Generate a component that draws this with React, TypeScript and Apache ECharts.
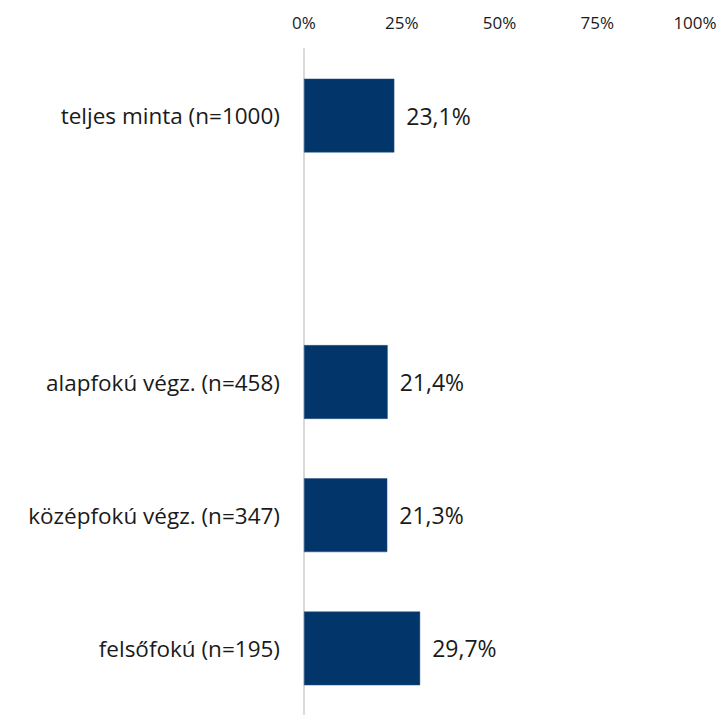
import React, { useEffect, useRef } from "react";
import * as echarts from "echarts";

const categories = [
  "teljes minta (n=1000)",
  "",
  "alapfokú végz. (n=458)",
  "középfokú végz. (n=347)",
  "felsőfokú (n=195)",
];
const values: (number | null)[] = [23.1, null, 21.4, 21.3, 29.7];
const xTicks = [0, 25, 50, 75, 100];

const FONT = "'Open Sans', 'DejaVu Sans', sans-serif";

export default function App() {
  const ref = useRef<HTMLDivElement>(null);
  useEffect(() => {
    if (!ref.current) return;
    const chart = echarts.init(ref.current, null, { renderer: "svg" });
    chart.setOption({
      animation: false,
      backgroundColor: "#ffffff",
      grid: { left: 304, width: 391, top: 49, height: 671, containLabel: false },
      xAxis: {
        type: "value",
        position: "top",
        min: xTicks[0],
        max: xTicks[xTicks.length - 1],
        interval: 25,
        axisLine: { show: false },
        axisTick: { show: false },
        splitLine: { show: false },
        axisLabel: {
          formatter: "{value}%",
          fontFamily: FONT,
          fontSize: 17,
          color: "#1a1a1a",
          margin: 18,
        },
      },
      yAxis: {
        type: "category",
        inverse: true,
        data: categories,
        axisLine: { show: true, lineStyle: { color: "#d9d9d9", width: 2 } },
        axisTick: { show: false },
        axisLabel: {
          fontFamily: FONT,
          fontSize: 22.5,
          color: "#1a1a1a",
          margin: 24,
        },
      },
      series: [
        {
          type: "bar",
          data: values,
          barCategoryGap: "44.6%",
          itemStyle: { color: "#02356a", borderColor: "#2a5585", borderWidth: 0.5 },
          label: {
            show: true,
            position: "right",
            distance: 12,
            fontFamily: FONT,
            fontSize: 23,
            color: "#1a1a1a",
            formatter: (p: any) =>
              p.value == null ? "" : p.value.toFixed(1).replace(".", ",") + "%",
          },
        },
      ],
    });
    return () => chart.dispose();
  }, []);
  return (
    <div
      ref={ref}
      style={{ position: "fixed", left: 0, top: 0, width: 720, height: 715 }}
    />
  );
}
